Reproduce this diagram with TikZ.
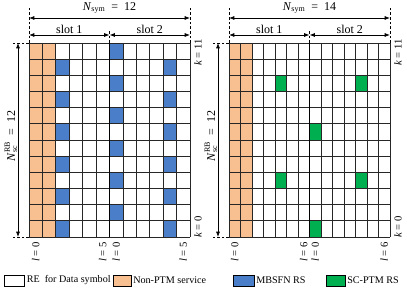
\documentclass[tikz,border=0pt]{standalone}
\usepackage{fontspec}
\setmainfont{Liberation Serif}
\usepackage{amsmath}
\usetikzlibrary{arrows.meta}
\definecolor{peach}{RGB}{248,192,145}
\definecolor{mblue}{RGB}{74,126,200}
\definecolor{scgreen}{RGB}{0,176,80}
\tikzset{
  gridline/.style={line width=0.6pt, black!85},
  midline/.style={line width=1.4pt, black},
  dimarrow/.style={line width=0.55pt, {Latex[length=4pt,width=3pt]}-{Latex[length=4pt,width=3pt]}},
  guide/.style={line width=0.55pt, dash pattern=on 2pt off 1.5pt},
  lbl/.style={font=\fontsize{8}{9}\selectfont, inner sep=0pt},
  toplbl/.style={font=\fontsize{9}{10}\selectfont, inner sep=0pt},
  legbox/.style={draw, line width=0.6pt},
  legtxt/.style={font=\fontsize{7.6}{9}\selectfont, anchor=west, inner sep=0pt},
}
\newcommand{\Nsc}{\textit{N}$^{\text{RB}}_{\text{sc}}$\enspace=\enspace12}
\begin{document}
\begin{tikzpicture}[x=0.75pt,y=-0.75pt]
\useasboundingbox (0,0) rectangle (407,291);

% ================= LEFT PANEL =================
\foreach \r in {0,...,11} {
  \fill[peach] (29,{43+\r*16.17}) rectangle ++(26.84,16.17);
}
\foreach \r/\c in {0/6,1/2,1/10,2/6,3/2,3/10,4/6,5/2,5/10,6/6,7/2,7/10,8/6,9/2,9/10,10/6,11/2,11/10} {
  \fill[mblue] ({29+\c*13.42},{43+\r*16.17}) rectangle ++(13.42,16.17);
}
\foreach \i in {0,...,12} {
  \draw[gridline] ({29+\i*13.42},43) -- ({29+\i*13.42},237.04);
  \draw[gridline] (29,{43+\i*16.17}) -- (190.04,{43+\i*16.17});
}
\coordinate (Ltl) at (29,43);
\coordinate (Ltr) at (190.04,43);
\coordinate (Lbl) at (29,237.04);
\coordinate (Lmt) at (109.52,43);
\coordinate (Lmb) at (109.52,237.04);
\draw[midline] (Lmt) -- (Lmb);

\coordinate (LgA) at (29,8);
\coordinate (LgB) at (190.04,8);
\coordinate (LgM) at (109.52,30);
\draw[guide] (Ltl) -- (LgA);
\draw[guide] (Ltr) -- (LgB);
\draw[guide] (Lmt) -- (LgM);
\coordinate (La1) at (29,18);
\coordinate (La2) at (190.04,18);
\draw[dimarrow] (La1) -- (La2);
\node[toplbl] (LNsym) at (109.5,8) {\textit{N}\textsubscript{sym}\enspace=\enspace12};
\coordinate (Ls1) at (29,35);
\coordinate (Ls2) at (109.52,35);
\coordinate (Ls3) at (190.04,35);
\draw[dimarrow] (Ls1) -- (Ls2);
\draw[dimarrow] (Ls2) -- (Ls3);
\node[toplbl] (Lslot1) at (69.3,29.5) {slot 1};
\node[toplbl] (Lslot2) at (149.8,29.5) {slot 2};

\coordinate (LhT) at (13,43);
\coordinate (LhB) at (13,237.04);
\draw[guide] (Ltl) -- (LhT);
\draw[guide] (Lbl) -- (LhB);
\coordinate (Lv1) at (18,43);
\coordinate (Lv2) at (18,237.04);
\draw[dimarrow] (Lv1) -- (Lv2);
\node[toplbl, rotate=90] (LNsc) at (11,136) {\Nsc};

\node[lbl, rotate=90, anchor=east] (Lk11) at (198,39) {\textit{k} = 11};
\node[lbl, rotate=90, anchor=west] (Lk0) at (198,238) {\textit{k} = 0};
\node[lbl, rotate=90, anchor=east] (Ll0a) at (35.71,242) {\textit{l} = 0};
\node[lbl, rotate=90, anchor=east] (Ll5a) at (102.81,242) {\textit{l} = 5};
\node[lbl, rotate=90, anchor=east] (Ll0b) at (116.23,242) {\textit{l} = 0};
\node[lbl, rotate=90, anchor=east] (Ll5b) at (183.33,242) {\textit{l} = 5};

% ================= RIGHT PANEL =================
\foreach \r in {0,...,11} {
  \fill[peach] (229,{43+\r*16.17}) rectangle ++(23,16.17);
}
\foreach \r/\c in {2/4,2/11,5/7,8/4,8/11,11/7} {
  \fill[scgreen] ({229+\c*11.5},{43+\r*16.17}) rectangle ++(11.5,16.17);
}
\foreach \i in {0,...,14} {
  \draw[gridline] ({229+\i*11.5},43) -- ({229+\i*11.5},237.04);
}
\foreach \i in {0,...,12} {
  \draw[gridline] (229,{43+\i*16.17}) -- (390,{43+\i*16.17});
}
\coordinate (Rtl) at (229,43);
\coordinate (Rtr) at (390,43);
\coordinate (Rbl) at (229,237.04);
\coordinate (Rmt) at (309.5,43);
\coordinate (Rmb) at (309.5,237.04);
\draw[midline] (Rmt) -- (Rmb);

\coordinate (RgA) at (229,8);
\coordinate (RgB) at (390,8);
\coordinate (RgM) at (309.5,30);
\draw[guide] (Rtl) -- (RgA);
\draw[guide] (Rtr) -- (RgB);
\draw[guide] (Rmt) -- (RgM);
\coordinate (Ra1) at (229,18);
\coordinate (Ra2) at (390,18);
\draw[dimarrow] (Ra1) -- (Ra2);
\node[toplbl] (RNsym) at (309.5,8) {\textit{N}\textsubscript{sym}\enspace=\enspace14};
\coordinate (Rs1) at (229,35);
\coordinate (Rs2) at (309.5,35);
\coordinate (Rs3) at (390,35);
\draw[dimarrow] (Rs1) -- (Rs2);
\draw[dimarrow] (Rs2) -- (Rs3);
\node[toplbl] (Rslot1) at (269.3,29.5) {slot 1};
\node[toplbl] (Rslot2) at (349.8,29.5) {slot 2};

\coordinate (RhT) at (213,43);
\coordinate (RhB) at (213,237.04);
\draw[guide] (Rtl) -- (RhT);
\draw[guide] (Rbl) -- (RhB);
\coordinate (Rv1) at (218,43);
\coordinate (Rv2) at (218,237.04);
\draw[dimarrow] (Rv1) -- (Rv2);
\node[toplbl, rotate=90] (RNsc) at (211,136) {\Nsc};

\node[lbl, rotate=90, anchor=east] (Rk11) at (398,39) {\textit{k} = 11};
\node[lbl, rotate=90, anchor=west] (Rk0) at (398,238) {\textit{k} = 0};
\node[lbl, rotate=90, anchor=east] (Rl0a) at (234.75,242) {\textit{l} = 0};
\node[lbl, rotate=90, anchor=east] (Rl6a) at (303.75,242) {\textit{l} = 6};
\node[lbl, rotate=90, anchor=east] (Rl0b) at (315.25,242) {\textit{l} = 0};
\node[lbl, rotate=90, anchor=east] (Rl6b) at (384.25,242) {\textit{l} = 6};

% ================= LEGEND =================
\draw[legbox, fill=white] (4,275) rectangle (24,286);
\node[legtxt] (legA) at (26.5,280.5) {RE\ \ for Data symbol};
\draw[legbox, fill=peach] (113,275) rectangle (131,286);
\node[legtxt] (legB) at (133,280.5) {Non-PTM service};
\draw[legbox, fill=mblue] (233,275) rectangle (254,286);
\node[legtxt] (legC) at (256,280.5) {MBSFN RS};
\draw[legbox, fill=scgreen] (326,275) rectangle (345,286);
\node[legtxt] (legD) at (347,280.5) {SC-PTM RS};
\end{tikzpicture}
\end{document}
